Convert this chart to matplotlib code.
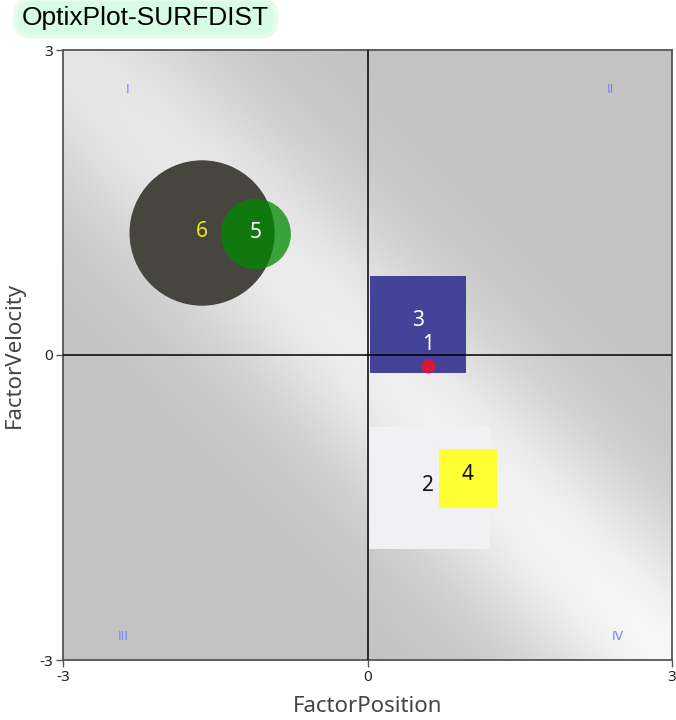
import numpy as np
import matplotlib
matplotlib.use("Agg")
import matplotlib.pyplot as plt
from matplotlib.patches import Circle, Rectangle

# ---- data ----
ids = ["1", "2", "3", "4", "5", "6"]
shapes = ["dot", "square", "square", "square", "circle", "circle"]
pos_x = [0.60, 0.61, 0.50, 0.99, -1.10, -1.63]
pos_y = [-0.11, -1.31, 0.30, -1.21, 1.19, 1.20]
sizes = [0.14, 1.20, 0.95, 0.58, 0.69, 1.43]
fills = ["#d01c3c", "#f1f1f3", "#3a3a95", "#ffff33", "#008a00", "#46463f"]
alphas = [1.0, 1.0, 0.95, 1.0, 0.75, 1.0]
label_colors = ["white", "#111111", "white", "#111111", "white", "#e8e820"]
label_dy = [0.21, 0.03, 0.04, 0.03, 0.01, 0.01]
label_dx = [0.0, -0.01, 0.0, 0.0, 0.0, 0.0]
draw_order = [5, 4, 1, 3, 2, 0]

quad_labels = ["I", "II", "III", "IV"]
quad_x = [-2.36, 2.39, -2.41, 2.47]
quad_y = [2.61, 2.61, -2.77, -2.77]

x_ticks = [-3, 0, 3]
y_ticks = [-3, 0, 3]
x_label = "FactorPosition"
y_label = "FactorVelocity"
title = "OptixPlot-SURFDIST"

fig = plt.figure(figsize=(6.76, 7.2), dpi=100)
ax = fig.add_axes([63 / 676, 60 / 720, 609 / 676, 610 / 720])
ax.set_xlim(-3, 3)
ax.set_ylim(-3, 3)

# background gradient: white band along anti-diagonal
g = np.linspace(-3, 3, 400)
X, Y = np.meshgrid(g, g)
d = (X + Y) / np.sqrt(2)
along = (X - Y) / np.sqrt(2)  # increases towards bottom-right
amp = 0.17 + 0.035 * (along / 4.24)
val = 0.765 + amp * np.exp(-(d / 1.0) ** 2)
val = np.clip(val, 0, 1)
img = np.dstack([val, val, val])
ax.imshow(img, extent=(-3, 3, -3, 3), origin="lower", zorder=0, interpolation="bilinear", aspect="auto")

# shapes
for i in draw_order:
    x, y, s = pos_x[i], pos_y[i], sizes[i]
    if shapes[i] == "circle":
        p = Circle((x, y), s / 2, facecolor=fills[i], edgecolor="none", alpha=alphas[i], zorder=2)
        ax.add_patch(p)
    elif shapes[i] == "square":
        p = Rectangle((x - s / 2, y - s / 2), s, s, facecolor=fills[i], edgecolor="none", alpha=alphas[i], zorder=2)
        ax.add_patch(p)
    else:
        ax.scatter([x], [y], s=110, color=fills[i], zorder=5, edgecolors="none")

# crosshair lines
ax.axhline(0, color="black", lw=1.1, zorder=3)
ax.axvline(0, color="black", lw=1.1, zorder=3)

# labels
for i in range(len(ids)):
    ax.text(pos_x[i] + label_dx[i], pos_y[i] + label_dy[i], ids[i], color=label_colors[i],
            fontsize=15, ha="center", va="center", family="Noto Sans", zorder=6)

for t, qx, qy in zip(quad_labels, quad_x, quad_y):
    ax.text(qx, qy, t, color="#7f7ff5", fontsize=9, ha="center", va="center", family="DejaVu Sans", zorder=4)

ax.set_xticks(x_ticks)
ax.set_yticks(y_ticks)
ax.set_xticklabels([str(v) for v in x_ticks])
ax.set_yticklabels([str(v) for v in y_ticks])
ax.tick_params(direction="out", length=5, width=1, color="#555555", labelsize=11, pad=2, labelcolor="#222222")
for lab in ax.get_xticklabels() + ax.get_yticklabels():
    lab.set_family("Noto Sans")
for sp in ax.spines.values():
    sp.set_color("#555555")
    sp.set_linewidth(1.3)

ax.set_xlabel(x_label, fontsize=16, family="Noto Sans", color="#444444", labelpad=8)
ax.set_ylabel(y_label, fontsize=16, family="Noto Sans", color="#444444")
ax.yaxis.set_label_coords(-0.062, 0.5)

fig.text(22 / 676, 1 - 18 / 720, title, fontsize=19, family="Liberation Sans", color="black",
         ha="left", va="center",
         bbox=dict(boxstyle="round,pad=0.25,rounding_size=0.6", facecolor="#d8fbe3", edgecolor="#e6fded", lw=3))

fig.savefig("out.png", dpi=100)
